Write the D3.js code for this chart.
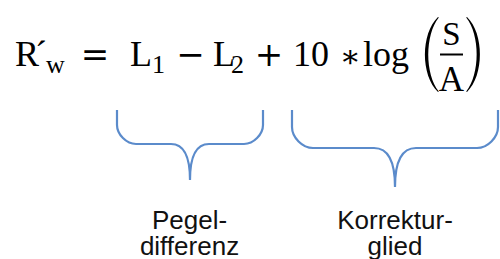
<!DOCTYPE html>
<html>
<head>
<meta charset="utf-8">
<script src="https://cdn.jsdelivr.net/npm/d3@7"></script>
<style>
  html, body { margin: 0; padding: 0; background: #fff; }
  svg { display: block; }
</style>
</head>
<body>
<script>
// formula: terms with optional subscripts, and the operators between them
var termMain = ['R\u00B4', 'L', 'L', '10', 'log'];
var termSub = ['w', '1', '2', '', ''];
var operators = ['=', '\u2212', '+', '\u2217'];
var fracTop = 'S', fracBottom = 'A';
// labels under the braces
var labelLines = [['Pegel-', 'differenz'], ['Korrektur-', 'glied']];

var W = 500, H = 259;
var blue = '#5B8BCB';
var serif = '"Liberation Serif", "Times New Roman", serif';

var svg = d3.select('body').append('svg').attr('width', W).attr('height', H);

// where each piece sits
var termX = [15, 130, 213, 293, 363];
var subDx = [-1, 0, -4, 0, 0];
var opX = [95, 190.5, 269, 350];
var baseY = 66, subDrop = 7;

var terms = svg.selectAll('text.term').data(termMain).enter().append('text')
    .attr('class', 'term')
    .attr('x', function(d, i) { return termX[i]; })
    .attr('y', baseY)
    .attr('font-family', serif)
    .attr('font-size', 36)
    .attr('fill', '#000');
terms.each(function(d, i) {
    var t = d3.select(this);
    if (d == 'R\u00B4') {
        t.append('tspan').text('R');
        t.append('tspan').attr('dx', -4).text('\u00B4');
    } else {
        t.append('tspan').text(d);
    }
    if (termSub[i])
        t.append('tspan').attr('dx', subDx[i]).attr('dy', subDrop)
            .attr('font-size', 26).text(termSub[i]);
});

// FIXME: the asterisk needs its own nudge to sit on the math axis
svg.selectAll('text.op').data(operators).enter().append('text')
    .attr('class', 'op')
    .attr('x', function(d, i) { return opX[i]; })
    .attr('y', function(d) { return d == '\u2217' ? baseY + 1 : baseY; })
    .attr('text-anchor', 'middle')
    .attr('font-family', '"DejaVu Serif", serif')
    .attr('font-size', function(d) { return d == '\u2217' ? 31 : 34; })
    .attr('fill', '#000')
    .text(function(d) { return d; });

// big parentheses round the fraction
function paren(xEnd, xMid, y0, y1, w, flip) {
    var s = flip ? -1 : 1;
    var c = xEnd + (xMid - xEnd) / 0.75;
    var ci = c + s * w * 1.6;
    return 'M' + xEnd + ',' + y0 +
        'C' + c + ',' + (y0 + (y1 - y0) * 0.22) + ' ' + c + ',' + (y0 + (y1 - y0) * 0.78) + ' ' + xEnd + ',' + y1 +
        'L' + (xEnd + s * 0.8) + ',' + (y1 - 0.5) +
        'C' + ci + ',' + (y0 + (y1 - y0) * 0.76) + ' ' + ci + ',' + (y0 + (y1 - y0) * 0.24) + ' ' + (xEnd + s * 0.8) + ',' + (y0 + 0.5) + 'Z';
}
svg.append('path').attr('d', paren(438, 425, 17, 92, 2.6, false)).attr('fill', '#000');
svg.append('path').attr('d', paren(467, 480, 17, 92, 2.6, true)).attr('fill', '#000');

var fracX = 451.5;
svg.append('text').attr('x', fracX).attr('y', 45).attr('text-anchor', 'middle')
    .attr('font-family', serif).attr('font-size', 33).text(fracTop);
svg.append('line').attr('x1', 440).attr('x2', 463).attr('y1', 54.5).attr('y2', 54.5)
    .attr('stroke', '#000').attr('stroke-width', 2);
svg.append('text').attr('x', fracX).attr('y', 91).attr('text-anchor', 'middle')
    .attr('font-family', serif).attr('font-size', 35).text(fracBottom);

// curly braces
var braces = [
    { x0: 117, x1: 263, top: 110, mid: 144, tip: 180, r: 19 },
    { x0: 292, x1: 498, top: 110, mid: 148, tip: 187, r: 21 }
];
function bracePath(b) {
    var xm = (b.x0 + b.x1) / 2, r = b.r, k = 0.5;
    return 'M' + b.x0 + ',' + b.top +
        'L' + b.x0 + ',' + (b.mid - r) +
        'C' + b.x0 + ',' + (b.mid - r * k) + ' ' + (b.x0 + r * k) + ',' + b.mid + ' ' + (b.x0 + r) + ',' + b.mid +
        'L' + (xm - r) + ',' + b.mid +
        'C' + (xm - r * 0.35) + ',' + b.mid + ' ' + xm + ',' + (b.mid + (b.tip - b.mid) * 0.3) + ' ' + xm + ',' + b.tip +
        'C' + xm + ',' + (b.mid + (b.tip - b.mid) * 0.3) + ' ' + (xm + r * 0.35) + ',' + b.mid + ' ' + (xm + r) + ',' + b.mid +
        'L' + (b.x1 - r) + ',' + b.mid +
        'C' + (b.x1 - r * k) + ',' + b.mid + ' ' + b.x1 + ',' + (b.mid - r * k) + ' ' + b.x1 + ',' + (b.mid - r) +
        'L' + b.x1 + ',' + b.top;
}
svg.selectAll('path.brace').data(braces).enter().append('path')
    .attr('class', 'brace')
    .attr('d', bracePath)
    .attr('fill', 'none')
    .attr('stroke', blue)
    .attr('stroke-width', 2.2);

var labelX = [189.5, 395];
var labels = svg.selectAll('g.label').data(labelLines).enter().append('g')
    .attr('class', 'label')
    .attr('transform', function(d, i) { return 'translate(' + labelX[i] + ',0)'; });
labels.selectAll('text').data(function(d) { return d; }).enter().append('text')
    .attr('x', 0)
    .attr('y', function(d, i) { return 229 + i * 26; })
    .attr('text-anchor', 'middle')
    .attr('font-family', '"Liberation Sans", Arial, sans-serif')
    .attr('font-size', 26)
    .attr('fill', '#111')
    .text(function(d) { return d; });
</script>
</body>
</html>
